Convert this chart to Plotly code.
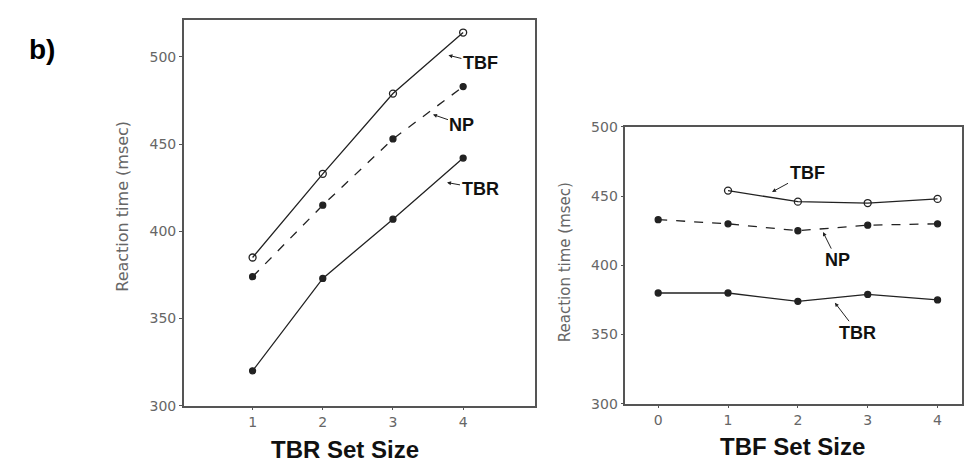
import plotly.graph_objects as go

# Left panel: x = TBR set size
left_x = [1, 2, 3, 4]
left_tbf = [385, 433, 479, 514]
left_np = [374, 415, 453, 483]
left_tbr = [320, 373, 407, 442]

# Right panel: x = TBF set size
right_x_tbf = [1, 2, 3, 4]
right_tbf = [454, 446, 445, 448]
right_x = [0, 1, 2, 3, 4]
right_np = [433, 430, 425, 429, 430]
right_tbr = [380, 380, 374, 379, 375]

left_xticks = [1, 2, 3, 4]
right_xticks = [0, 1, 2, 3, 4]
yticks = [300, 350, 400, 450, 500]

LINE = "#222222"
AXIS = "#555555"
TICKF = dict(family="DejaVu Sans", size=14, color="#666666")

W, H = 964, 462


def px(xp):
    # target screen x -> paper fraction
    return (xp + 1) / W


def py(yp):
    # target screen y -> paper fraction (compensates observed vertical squash)
    return 1 - ((yp - 8) / 0.966) / H


fig = go.Figure()


def add(x, y, xa, ya, dash, open_marker):
    fig.add_trace(go.Scatter(
        x=x, y=y, xaxis=xa, yaxis=ya, mode="lines+markers",
        line=dict(color=LINE, width=1.3, dash=dash),
        marker=dict(symbol="circle-open" if open_marker else "circle",
                    size=7 if open_marker else 6, color=LINE,
                    line=dict(width=1.3, color=LINE)),
        showlegend=False))


add(left_x, left_tbf, "x", "y", "solid", True)
add(left_x, left_np, "x", "y", "dash", False)
add(left_x, left_tbr, "x", "y", "solid", False)
add(right_x_tbf, right_tbf, "x2", "y2", "solid", True)
add(right_x, right_np, "x2", "y2", "dash", False)
add(right_x, right_tbr, "x2", "y2", "solid", False)

axis_common = dict(showgrid=False, zeroline=False, showline=True, linecolor=AXIS,
                   linewidth=1.5, mirror=True, ticks="outside", ticklen=3,
                   tickcolor=AXIS, tickfont=TICKF)

fig.update_layout(
    width=W, height=H, margin=dict(l=0, r=0, t=0, b=0),
    plot_bgcolor="white", paper_bgcolor="white",
    xaxis=dict(domain=[px(183), px(535)], range=[0.02, 5.03], tickvals=left_xticks, **axis_common),
    yaxis=dict(domain=[py(406), py(20)], range=[300, 521.2], tickvals=yticks, **axis_common),
    xaxis2=dict(domain=[px(625), px(962)], range=[-0.47, 4.35], tickvals=right_xticks, anchor="y2", **axis_common),
    yaxis2=dict(domain=[py(404), py(127)], range=[300, 500], tickvals=yticks, anchor="x2", **axis_common),
)

ann_font = dict(family="Liberation Sans", size=18, color="#111111")
arrow = dict(showarrow=True, arrowhead=2, arrowsize=0.8, arrowwidth=1, arrowcolor="#222222")

labels = [
    ("TBF", "x", "y", 3.79, 501, 32, 8),
    ("NP", "x", "y", 3.57, 467, 29, 10),
    ("TBR", "x", "y", 3.77, 428, 33, 6),
    ("TBF", "x2", "y2", 1.63, 453, 35, -19),
    ("NP", "x2", "y2", 2.36, 424, 14, 28),
    ("TBR", "x2", "y2", 2.53, 373, 23, 30),
]
for t, xr, yr, x, y, ax, ay in labels:
    fig.add_annotation(text="<b>%s</b>" % t, xref=xr, yref=yr, x=x, y=y, ax=ax, ay=ay,
                       font=ann_font, **arrow)

center = dict(xref="paper", yref="paper", showarrow=False, xanchor="center", yanchor="middle")
fig.add_annotation(text="<b>TBR Set Size</b>", x=px(344), y=py(450),
                   font=dict(family="Liberation Sans", size=24, color="#111111"), **center)
fig.add_annotation(text="<b>TBF Set Size</b>", x=px(792), y=py(447),
                   font=dict(family="Liberation Sans", size=24, color="#111111"), **center)
fig.add_annotation(text="Reaction time (msec)", x=px(122), y=py(206), textangle=-90,
                   font=dict(family="DejaVu Sans", size=16, color="#666666"), **center)
fig.add_annotation(text="Reaction time (msec)", x=px(564), y=py(262), textangle=-90,
                   font=dict(family="DejaVu Sans", size=15, color="#666666"), **center)
fig.add_annotation(text="<b>b)</b>", x=px(41), y=py(50),
                   font=dict(family="Liberation Sans", size=28, color="#000000"), **center)

post = ("document.body.style.margin='0';document.body.style.padding='0';"
        "document.body.style.overflow='hidden';"
        "document.documentElement.style.overflow='hidden';")
fig.write_html("out.html", post_script=post, config={"displayModeBar": False})
